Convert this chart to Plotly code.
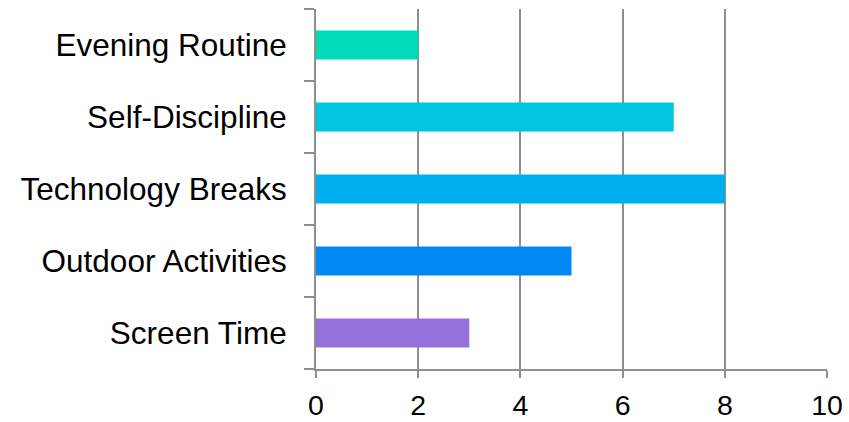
import plotly.graph_objects as go

# Categories listed bottom to top
categories = ["Screen Time", "Outdoor Activities", "Technology Breaks", "Self-Discipline", "Evening Routine"]
values = [3, 5, 8, 7, 2]
bar_colors = ["#9370DB", "#0088F5", "#00AFF0", "#00C5DE", "#00DBBA"]
x_ticks = [0, 2, 4, 6, 8, 10]

axis_gray = "#8f8f8f"
font_family = "Liberation Sans, Arial, sans-serif"

fig = go.Figure(
    go.Bar(
        x=values,
        y=categories,
        orientation="h",
        marker=dict(color=bar_colors, line=dict(width=0)),
        width=0.4,
    )
)

fig.update_layout(
    width=849,
    height=422,
    margin=dict(l=316, r=22, t=9, b=53),
    paper_bgcolor="white",
    plot_bgcolor="white",
    showlegend=False,
    font=dict(family=font_family, size=28, color="black"),
)

fig.update_xaxes(
    range=[0, 10],
    tickvals=x_ticks,
    ticktext=[str(t) for t in x_ticks],
    showgrid=True,
    gridcolor=axis_gray,
    gridwidth=2,
    zeroline=False,
    showline=True,
    linecolor=axis_gray,
    linewidth=2,
    ticks="outside",
    ticklen=7,
    tickwidth=2,
    tickcolor=axis_gray,
    ticklabelstandoff=3,
    tickfont=dict(size=28.5),
    automargin=False,
    fixedrange=True,
)

fig.update_yaxes(
    type="category",
    categoryorder="array",
    categoryarray=categories,
    showgrid=False,
    zeroline=False,
    showline=True,
    linecolor=axis_gray,
    linewidth=2,
    ticks="outside",
    tickson="boundaries",
    ticklen=10,
    tickwidth=2,
    tickcolor=axis_gray,
    ticklabelstandoff=21,
    tickfont=dict(size=31.5),
    automargin=False,
    fixedrange=True,
)

fig.write_html("out.html")
